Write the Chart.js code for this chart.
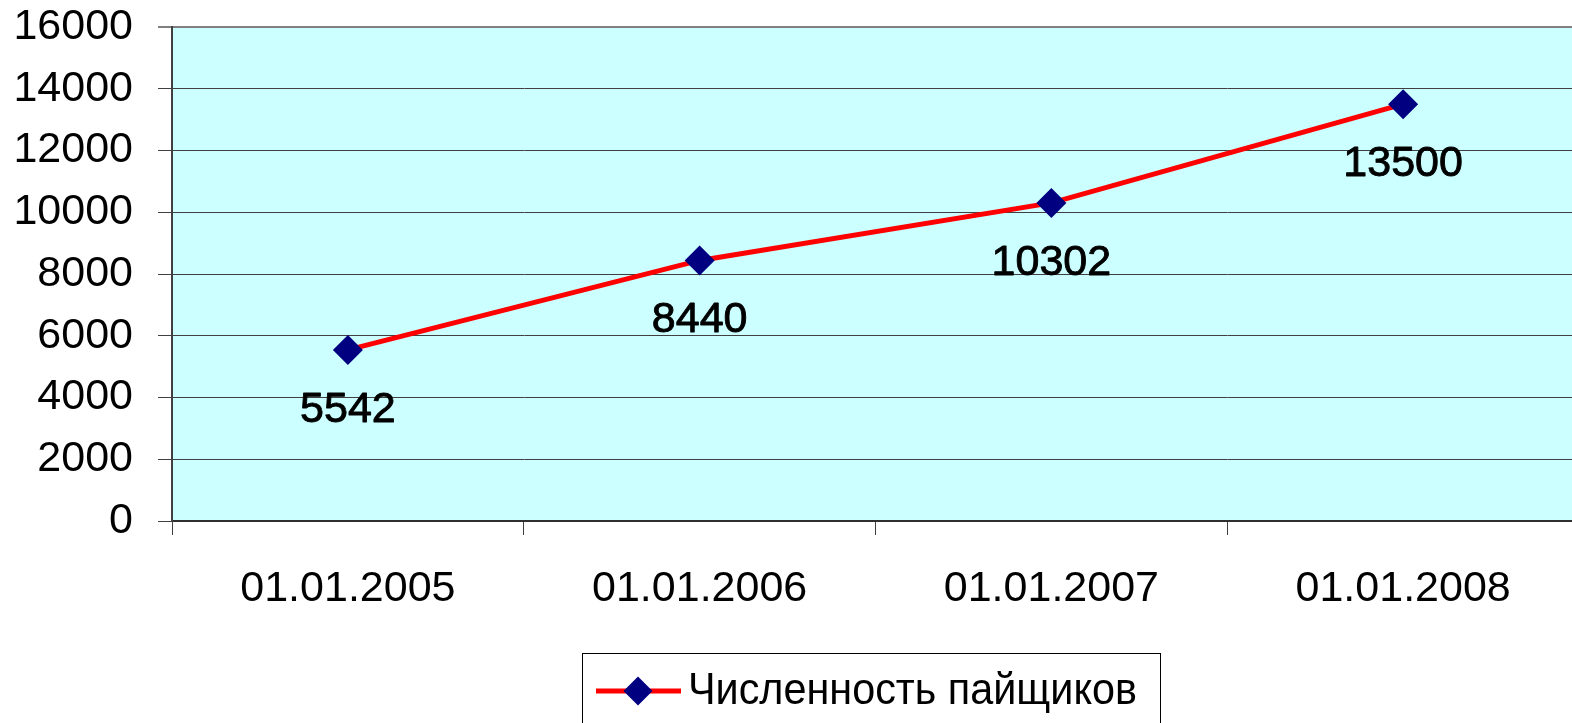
<!DOCTYPE html>
<html>
<head>
<meta charset="utf-8">
<script src="https://cdn.jsdelivr.net/npm/chart.js@4/dist/chart.umd.min.js"></script>
<style>
  html, body { margin: 0; padding: 0; background: #ffffff; overflow: hidden; }
  #wrap { position: relative; width: 1594px; height: 723px; }
</style>
</head>
<body>
<div id="wrap"><canvas id="c" width="1594" height="723"></canvas></div>
<script>
const categories = ['01.01.2005', '01.01.2006', '01.01.2007', '01.01.2008'];
const members = [5542, 8440, 10302, 13500];
const seriesName = 'Численность пайщиков';
const yTicks = [0, 2000, 4000, 6000, 8000, 10000, 12000, 14000, 16000];

const FONT = '"Liberation Sans", Arial, sans-serif';

const bgPlugin = {
  id: 'plotBg',
  beforeDraw(chart) {
    const { ctx, chartArea: a } = chart;
    ctx.save();
    ctx.fillStyle = '#CCFFFF';
    ctx.fillRect(a.left, a.top, a.right - a.left, a.bottom - a.top);
    ctx.restore();
  }
};

const labelPlugin = {
  id: 'valueLabels',
  afterDatasetsDraw(chart) {
    const { ctx } = chart;
    const meta = chart.getDatasetMeta(0);
    ctx.save();
    ctx.font = '43px ' + FONT;
    ctx.fillStyle = '#000000';
    ctx.strokeStyle = '#000000';
    ctx.lineWidth = 0.9;
    ctx.lineJoin = 'round';
    ctx.textAlign = 'center';
    ctx.textBaseline = 'middle';
    meta.data.forEach((pt, i) => {
      ctx.fillText(String(members[i]), pt.x, pt.y + 60);
      ctx.strokeText(String(members[i]), pt.x, pt.y + 60);
    });
    ctx.restore();
  }
};

const legendPlugin = {
  id: 'boxLegend',
  afterDraw(chart) {
    const { ctx } = chart;
    ctx.save();
    ctx.strokeStyle = '#000000';
    ctx.lineWidth = 1;
    ctx.strokeRect(582.5, 653.5, 578, 100);
    const cy = 691;
    ctx.strokeStyle = '#FF0000';
    ctx.lineWidth = 5;
    ctx.beginPath();
    ctx.moveTo(596, cy);
    ctx.lineTo(681, cy);
    ctx.stroke();
    ctx.fillStyle = '#000080';
    ctx.beginPath();
    ctx.moveTo(638, cy - 14.5);
    ctx.lineTo(652.5, cy);
    ctx.lineTo(638, cy + 14.5);
    ctx.lineTo(623.5, cy);
    ctx.closePath();
    ctx.fill();
    ctx.fillStyle = '#000000';
    ctx.font = '45px ' + FONT;
    ctx.textAlign = 'left';
    ctx.textBaseline = 'middle';
    ctx.fillText(seriesName, 688, cy + 1, 449);
    ctx.restore();
  }
};

new Chart(document.getElementById('c'), {
  type: 'line',
  data: {
    labels: categories,
    datasets: [{
      label: seriesName,
      data: members,
      borderColor: '#FF0000',
      borderWidth: 5,
      pointStyle: 'rectRot',
      pointRadius: 15,
      pointHoverRadius: 15,
      pointBackgroundColor: '#000080',
      pointBorderColor: '#000080',
      pointBorderWidth: 0,
      tension: 0,
      fill: false
    }]
  },
  options: {
    responsive: false,
    animation: false,
    events: [],
    layout: { padding: { top: 27, right: 2, bottom: 0, left: 0 } },
    plugins: {
      legend: { display: false },
      tooltip: { enabled: false }
    },
    scales: {
      x: {
        type: 'category',
        offset: true,
        afterFit(s) { s.height = 202; s.paddingLeft = 0; s.paddingRight = 0; },
        grid: {
          offset: true,
          drawOnChartArea: false,
          drawTicks: true,
          tickLength: 14,
          color: '#404040',
          lineWidth: 1
        },
        border: { display: true, color: '#303030', width: 2 },
        ticks: {
          color: '#000000',
          font: { family: FONT, size: 43 },
          padding: 28,
          maxRotation: 0,
          autoSkip: false
        }
      },
      y: {
        min: 0,
        max: 16000,
        afterFit(s) { s.width = 172; s.paddingTop = 0; s.paddingBottom = 0; },
        afterBuildTicks(s) { s.ticks = yTicks.map(v => ({ value: v })); },
        grid: {
          drawOnChartArea: true,
          drawTicks: true,
          tickLength: 14,
          color: (c) => (c.tick && c.tick.value === 16000 ? '#808080' : '#404040'),
          lineWidth: (c) => (c.tick && c.tick.value === 16000 ? 2 : 1)
        },
        border: { display: true, color: '#404040', width: 2 },
        ticks: {
          color: '#000000',
          font: { family: FONT, size: 43 },
          padding: 25,
          callback: (v) => String(v)
        }
      }
    }
  },
  plugins: [bgPlugin, labelPlugin, legendPlugin]
});
</script>
</body>
</html>
